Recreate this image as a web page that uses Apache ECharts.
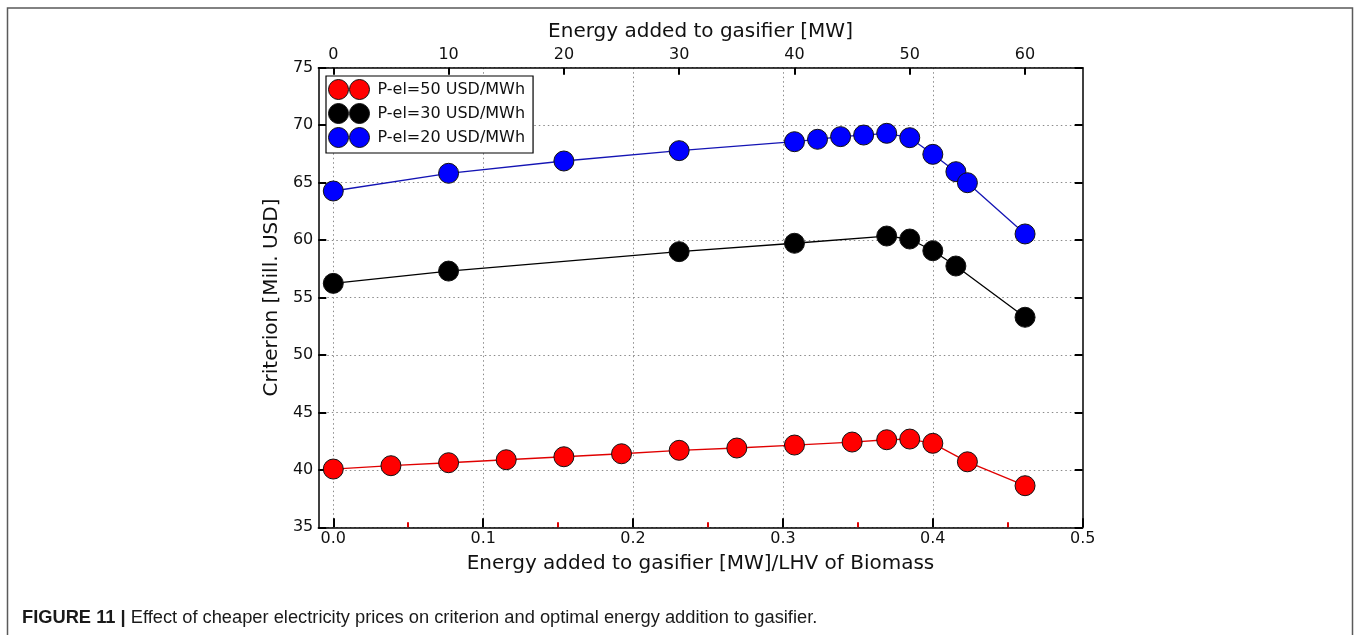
<!DOCTYPE html>
<html>
<head>
<meta charset="utf-8">
<title>Criterion vs. energy added to gasifier</title>
<script src="https://cdn.jsdelivr.net/npm/echarts@6/dist/echarts.min.js"></script>
<style>
  html, body { margin: 0; padding: 0; background: #fff; }
  #chart { width: 1356px; height: 635px; }
</style>
</head>
<body>
<div id="chart"></div>
<script>
// Energy added to the gasifier [MW] for each case
const mw50 = [0, 5, 10, 15, 20, 25, 30, 35, 40, 45, 48, 50, 52, 55, 60];
const mw30 = [0, 10, 30, 40, 48, 50, 52, 54, 60];
const mw20 = [0, 10, 20, 30, 40, 42, 44, 46, 48, 50, 52, 54, 55, 60];

// Criterion [Mill. USD]
const crit50 = [40.07, 40.36, 40.62, 40.88, 41.14, 41.40, 41.70, 41.90, 42.16, 42.42, 42.62, 42.68, 42.31, 40.70, 38.62];
const crit30 = [56.23, 57.30, 58.99, 59.72, 60.35, 60.09, 59.07, 57.74, 53.28];
const crit20 = [64.27, 65.81, 66.88, 67.78, 68.56, 68.77, 69.00, 69.14, 69.29, 68.91, 67.46, 65.95, 64.99, 60.53];

const seriesNames = ['P-el=50 USD/MWh', 'P-el=30 USD/MWh', 'P-el=20 USD/MWh'];

// LHV of the biomass [MW]; links the two horizontal scales
const lhvBiomass = 130;

// Tick positions
const ratioTicks = [0, 0.1, 0.2, 0.3, 0.4, 0.5];
const ratioMinorTicks = [0.05, 0.15, 0.25, 0.35, 0.45];
const ratioGrid = [0, 0.1, 0.2, 0.3, 0.4];
const mwTicks = [0, 10, 20, 30, 40, 50, 60];
const ratioMin = -0.01, ratioMax = 0.5;
const critMin = 35, critMax = 75, critStep = 5;

const FONT = 'DejaVu Sans';
const INK = '#111';
const dotted = { color: '#8a8a8a', width: 1, type: [1.5, 3] };

const pairs = (xs, ys) => xs.map((x, i) => [x, ys[i]]);

const legendIcon = 'path://M0,10A10,10,0,1,1,20,10A10,10,0,1,1,0,10Z' +
  'M21,10A10,10,0,1,1,41,10A10,10,0,1,1,21,10Z';

function lineSeries(name, xs, ys, fill, lineColor) {
  return {
    name: name,
    type: 'line',
    xAxisIndex: 1,
    yAxisIndex: 0,
    data: pairs(xs, ys),
    symbol: 'circle',
    symbolSize: 20,
    showAllSymbol: true,
    itemStyle: { color: fill, borderColor: '#111', borderWidth: 1 },
    lineStyle: { color: lineColor, width: 1.3 },
    emphasis: { disabled: true },
    z: 3
  };
}

const chart = echarts.init(document.getElementById('chart'), null, { renderer: 'canvas' });

chart.setOption({
  animation: false,
  backgroundColor: '#fff',
  grid: { left: 318.3, top: 67.7, width: 764.4, height: 459.6, containLabel: false },
  legend: {
    orient: 'vertical',
    left: 326,
    top: 76,
    padding: [3, 8, 5, 2],
    itemGap: 3,
    itemWidth: 41,
    itemHeight: 20,
    backgroundColor: '#fff',
    borderColor: '#000',
    borderWidth: 1.2,
    borderRadius: 0,
    selectedMode: false,
    textStyle: { fontFamily: FONT, fontSize: 16, color: INK, padding: [0, 0, 0, 3] },
    data: [
      { name: seriesNames[0], icon: legendIcon, itemStyle: { color: '#ff0000', borderColor: '#111', borderWidth: 1 } },
      { name: seriesNames[1], icon: legendIcon, itemStyle: { color: '#000000', borderColor: '#111', borderWidth: 1 } },
      { name: seriesNames[2], icon: legendIcon, itemStyle: { color: '#0000ff', borderColor: '#111', borderWidth: 1 } }
    ]
  },
  xAxis: [
    {
      // ratio scale, bottom
      type: 'value',
      position: 'bottom',
      min: ratioMin,
      max: ratioMax,
      name: 'Energy added to gasifier [MW]/LHV of Biomass',
      nameLocation: 'middle',
      nameGap: 26,
      nameTextStyle: { fontFamily: FONT, fontSize: 20, color: INK },
      axisLine: { show: true, onZero: false, lineStyle: { color: '#000', width: 1.5 } },
      axisTick: { show: true, inside: true, length: 9, customValues: ratioTicks, lineStyle: { color: '#000', width: 2 } },
      axisLabel: {
        customValues: ratioTicks,
        margin: 4,
        fontFamily: FONT, fontSize: 16, color: INK,
        formatter: v => v.toFixed(1)
      },
      splitLine: { show: false }
    },
    {
      // energy scale in MW, top
      type: 'value',
      position: 'top',
      min: ratioMin * lhvBiomass,
      max: ratioMax * lhvBiomass,
      name: 'Energy added to gasifier [MW]',
      nameLocation: 'middle',
      nameGap: 23,
      nameTextStyle: { fontFamily: FONT, fontSize: 20, color: INK },
      axisLine: { show: true, onZero: false, lineStyle: { color: '#000', width: 1.5 } },
      axisTick: { show: true, inside: true, length: 7, customValues: mwTicks, lineStyle: { color: '#000', width: 2 } },
      axisLabel: {
        customValues: mwTicks,
        margin: 5,
        fontFamily: FONT, fontSize: 16, color: INK,
        formatter: v => String(v)
      },
      splitLine: { show: false }
    },
    {
      // red minor ticks on the ratio scale
      type: 'value',
      position: 'bottom',
      min: ratioMin,
      max: ratioMax,
      axisLine: { show: false },
      axisTick: { show: true, inside: true, length: 5, customValues: ratioMinorTicks, lineStyle: { color: '#e00000', width: 2 } },
      axisLabel: { show: false },
      splitLine: { show: false }
    },
    {
      // vertical dotted grid on the ratio scale
      type: 'value',
      position: 'bottom',
      min: ratioMin,
      max: ratioMax,
      axisLine: { show: false },
      axisTick: { show: false, customValues: ratioGrid },
      axisLabel: { show: false },
      splitLine: { show: true, lineStyle: dotted }
    }
  ],
  yAxis: [
    {
      type: 'value',
      position: 'left',
      min: critMin,
      max: critMax,
      interval: critStep,
      name: 'Criterion [Mill. USD]',
      nameLocation: 'middle',
      nameGap: 31,
      nameTextStyle: { fontFamily: FONT, fontSize: 20, color: INK },
      axisLine: { show: true, onZero: false, lineStyle: { color: '#000', width: 1.5 } },
      axisTick: { show: true, inside: true, length: 8, lineStyle: { color: '#000', width: 2 } },
      axisLabel: { margin: 5, fontFamily: FONT, fontSize: 16, color: INK },
      splitLine: { show: true, lineStyle: dotted }
    },
    {
      type: 'value',
      position: 'right',
      min: critMin,
      max: critMax,
      interval: critStep,
      axisLine: { show: true, onZero: false, lineStyle: { color: '#000', width: 1.5 } },
      axisTick: { show: true, inside: true, length: 8, lineStyle: { color: '#000', width: 2 } },
      axisLabel: { show: false },
      splitLine: { show: false }
    }
  ],
  series: [
    lineSeries(seriesNames[0], mw50, crit50, '#ff0000', '#e00000'),
    lineSeries(seriesNames[1], mw30, crit30, '#000000', '#000000'),
    lineSeries(seriesNames[2], mw20, crit20, '#0000ff', '#1414b4')
  ],
  graphic: [
    {
      type: 'polyline',
      silent: true,
      shape: { points: [[7.5, 640], [7.5, 8], [1352.5, 8], [1352.5, 640]] },
      style: { stroke: '#5a5a5a', lineWidth: 1.5, fill: null }
    },
    {
      type: 'text',
      left: 22,
      top: 609,
      silent: true,
      style: {
        text: '{b|FIGURE 11 |} Effect of cheaper electricity prices on criterion and optimal energy addition to gasifier.',
        fontFamily: 'Liberation Sans',
        fontSize: 18.3,
        fill: '#1a1a1a',
        rich: {
          b: { fontFamily: 'Liberation Sans', fontSize: 18.3, fontWeight: 'bold', fill: '#1a1a1a' }
        }
      }
    }
  ]
});
</script>
</body>
</html>
